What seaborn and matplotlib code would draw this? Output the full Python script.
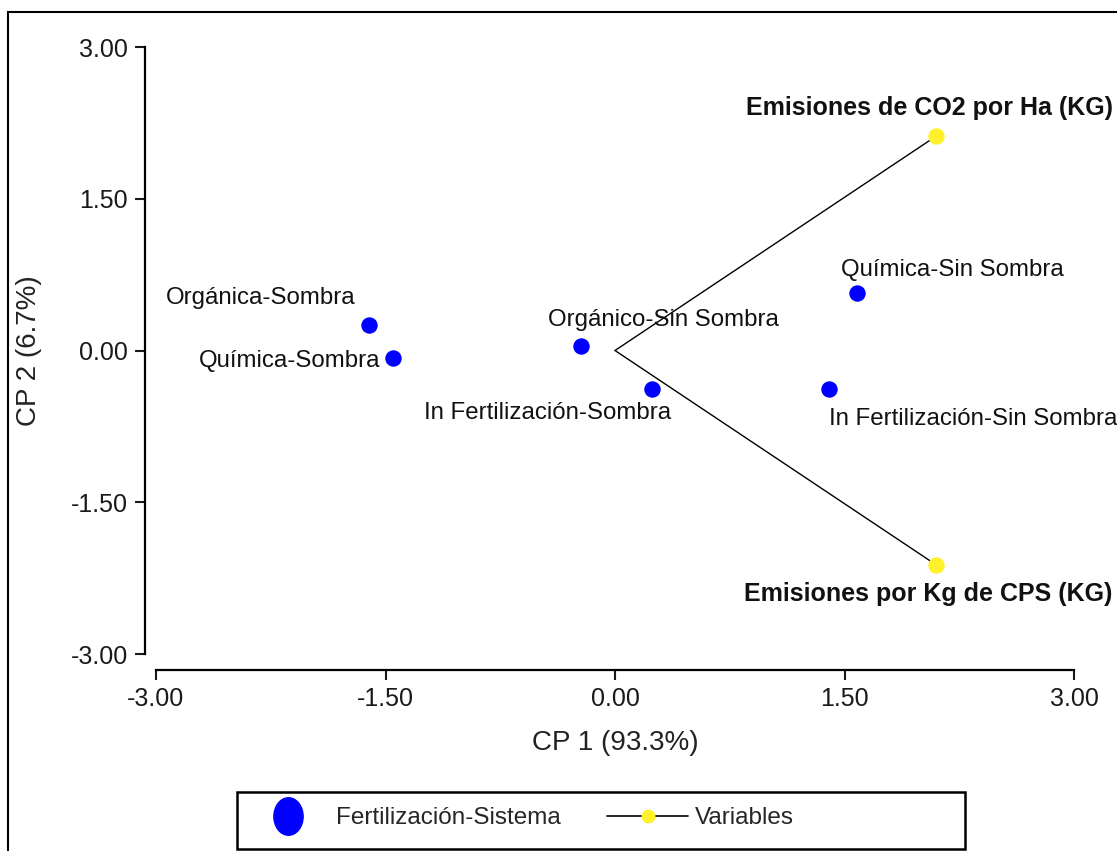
import numpy as np
import pandas as pd
import matplotlib
matplotlib.use("Agg")
import matplotlib.pyplot as plt
import seaborn as sns
from matplotlib.lines import Line2D
from matplotlib.patches import Rectangle
from matplotlib.path import Path
from matplotlib.transforms import Affine2D

# treatments (observations) in the biplot
tratamientos = ["Orgánica-Sombra", "Química-Sombra", "Orgánico-Sin Sombra",
                "In Fertilización-Sombra", "Química-Sin Sombra",
                "In Fertilización-Sin Sombra"]
cp1 = [-1.61, -1.45, -0.22, 0.24, 1.58, 1.40]
cp2 = [0.25, -0.07, 0.04, -0.38, 0.57, -0.38]

# variables (vectors)
variables = ["Emisiones de CO2 por Ha (KG)", "Emisiones por Kg de CPS (KG)"]
var_cp1 = [2.10, 2.10]
var_cp2 = [2.12, -2.12]

ticks = [-3.0, -1.5, 0.0, 1.5, 3.0]
tick_labels = ["-3.00", "-1.50", "0.00", "1.50", "3.00"]

BLUE = "#0000FF"
YELLOW = "#FFF22C"

sns.set_style("white")
plt.rcParams["font.family"] = ["Liberation Sans", "DejaVu Sans"]

fig = plt.figure(figsize=(11.17, 8.51), dpi=100)
ax = fig.add_axes([156 / 1117, 1 - 654 / 851, 918 / 1117, 607 / 851])

df_obs = pd.DataFrame({"CP1": cp1, "CP2": cp2, "lab": tratamientos})
df_var = pd.DataFrame({"CP1": var_cp1, "CP2": var_cp2, "lab": variables})

# vectors from origin
for x, y in zip(var_cp1, var_cp2):
    ax.plot([0, x], [0, y], color="black", lw=1.0, zorder=1)

sns.scatterplot(data=df_obs, x="CP1", y="CP2", color=BLUE, s=140,
                edgecolor=BLUE, linewidth=0, ax=ax, zorder=3, legend=False)
sns.scatterplot(data=df_var, x="CP1", y="CP2", color=YELLOW, s=140,
                edgecolor=YELLOW, linewidth=0, ax=ax, zorder=3, legend=False)

# label offsets in points (dx, dy, ha)
px = 0.72
obs_offsets = [(-13, 27, "right"), (-13, -3, "right"), (-33, 26, "left"),
               (19, -24, "right"), (-16, 23, "left"), (0, -30, "left")]
for (x, y, lab), (dx, dy, ha) in zip(zip(cp1, cp2, tratamientos), obs_offsets):
    ax.annotate(lab, (x, y), xytext=(dx * px, dy * px), textcoords="offset points",
                ha=ha, va="center", fontsize=17.3, color="#111111",
                annotation_clip=False)

var_offsets = [(-7, 28), (-8, -29)]
for (x, y, lab), (dx, dy) in zip(zip(var_cp1, var_cp2, variables), var_offsets):
    ax.annotate(lab, (x, y), xytext=(dx * px, dy * px), textcoords="offset points",
                ha="center", va="center", fontsize=18, fontweight="bold",
                color="#111111", annotation_clip=False)

ax.set_xlim(-3, 3)
ax.set_ylim(-3, 3)
ax.set_xticks(ticks)
ax.set_xticklabels(tick_labels)
ax.set_yticks(ticks)
ax.set_yticklabels(tick_labels)
ax.tick_params(axis="both", direction="out", length=7, width=1.5,
               labelsize=18, colors="#1a1a1a", pad=5, left=True, bottom=True)

for s in ["top", "right"]:
    ax.spines[s].set_visible(False)
ax.spines["left"].set_position(("outward", 8))
ax.spines["bottom"].set_position(("outward", 11.5))
for s in ["left", "bottom"]:
    ax.spines[s].set_linewidth(1.6)
    ax.spines[s].set_color("black")

ax.set_xlabel("CP 1 (93.3%)", fontsize=20, color="#222222")
ax.set_ylabel("CP 2 (6.7%)", fontsize=20, color="#222222")
ax.xaxis.set_label_coords(0.5, -0.125)
ax.yaxis.set_label_coords(-0.124, 0.5)

# legend
ell = Path.unit_circle().transformed(Affine2D().scale(0.78, 1.0))
handles = [
    Line2D([], [], linestyle="none", marker=ell, markersize=27,
           markerfacecolor=BLUE, markeredgecolor=BLUE),
    Line2D([], [], color="black", lw=1.2, marker="o", markersize=9,
           markerfacecolor=YELLOW, markeredgecolor=YELLOW),
]
fig.legend(handles, ["Fertilización-Sistema", "Variables"], ncol=2,
           loc="center left", bbox_to_anchor=(248 / 1117, 1 - 818 / 851),
           frameon=False, fontsize=17.5, handlelength=3.3, handletextpad=0.3,
           columnspacing=1.94, borderpad=0, borderaxespad=0)
fig.patches.append(Rectangle((237 / 1117, 1 - 849 / 851), 728 / 1117, 57 / 851,
                             transform=fig.transFigure, fill=False,
                             edgecolor="black", lw=1.8))

# outer frame
fig.patches.append(Rectangle((8 / 1117, -0.1), 1.2, 1.1 - 12 / 851,
                             transform=fig.transFigure, fill=False,
                             edgecolor="black", lw=1.5))

fig.savefig("out.png", dpi=100)
